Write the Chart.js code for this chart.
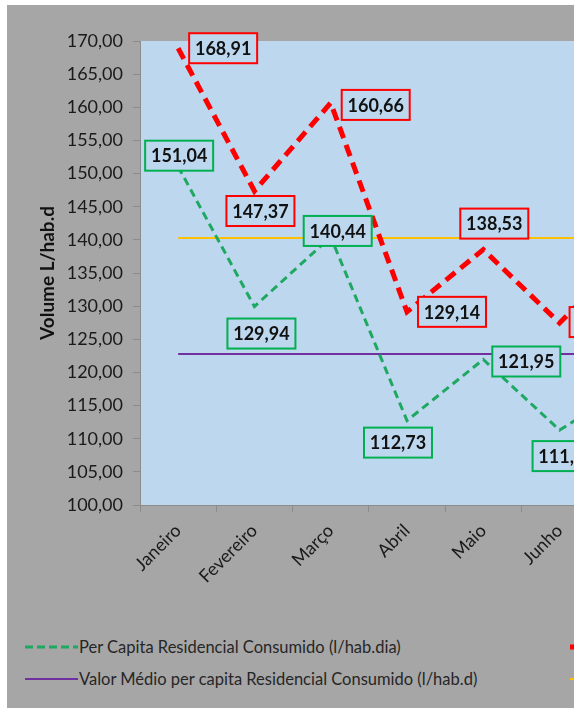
<!DOCTYPE html>
<html>
<head>
<meta charset="utf-8">
<script src="https://cdn.jsdelivr.net/npm/chart.js@4.4.1/dist/chart.umd.min.js"></script>
<style>
  html, body { margin: 0; padding: 0; background: #ffffff; overflow: hidden; width: 574px; height: 708px; }
  #frame { position: absolute; left: 7px; top: 5px; width: 567px; height: 703px; background: #a6a6a6; overflow: hidden; }
  #chart { position: absolute; left: 0; top: 0; }
  .leg { position: absolute; height: 20px; display: flex; align-items: center; white-space: nowrap;
         font-family: Lato, "Open Sans", sans-serif; font-size: 16.5px; color: #262626; }
  .leg svg { margin-right: 1px; }
</style>
</head>
<body>
<div id="frame">
  <canvas id="chart" width="667" height="600"></canvas>
  <div id="legend"></div>
</div>
<script>
// Months on the category axis
const months = ['Janeiro', 'Fevereiro', 'Março', 'Abril', 'Maio', 'Junho', 'Julho'];

// Per capita residential volume, consumed (l/hab.dia)
const consumed = [151.04, 129.94, 140.44, 112.73, 121.95, 111.30, 118.50];
// Per capita residential volume, billed (l/hab.dia)
const billed = [168.91, 147.37, 160.66, 129.14, 138.53, 127.45, 139.00];
// Mean values of each series
const consumedAvg = [122.78, 122.78, 122.78, 122.78, 122.78, 122.78, 122.78];
const billedAvg = [140.27, 140.27, 140.27, 140.27, 140.27, 140.27, 140.27];

// Y axis range and step
const yMin = 100, yMax = 170, yStep = 5;

// Where each value box sits relative to its point [dx, dy]
const consumedBoxOffsets = [[1, -11], [7, 27], [7, -6], [-9, 22], [43, 2], [7, 26], null];
const billedBoxOffsets = [[45, 0], [6, 20], [45, 2], [45, 0], [11, -26], [44, -1], null];

const PLOT_BG = '#bdd7ee';
const AXIS = '#8c8c8c';
const fmt = v => v.toFixed(2).replace('.', ',');

const plotBg = {
  id: 'plotBg',
  beforeDraw(chart) {
    const { ctx, chartArea: a } = chart;
    ctx.save();
    ctx.fillStyle = PLOT_BG;
    ctx.fillRect(a.left, a.top, a.right - a.left, a.bottom - a.top);
    ctx.restore();
  }
};

const valueBoxes = {
  id: 'valueBoxes',
  afterDatasetsDraw(chart) {
    const ctx = chart.ctx;
    chart.data.datasets.forEach((ds, di) => {
      if (!ds.boxOffsets) return;
      const meta = chart.getDatasetMeta(di);
      meta.data.forEach((pt, i) => {
        const off = ds.boxOffsets[i];
        if (!off) return;
        const cx = pt.x + off[0], cy = pt.y + off[1];
        const w = 68, h = 30;
        ctx.save();
        ctx.fillStyle = PLOT_BG;
        ctx.fillRect(cx - w / 2, cy - h / 2, w, h);
        ctx.strokeStyle = ds.boxColor;
        ctx.lineWidth = 2;
        ctx.strokeRect(cx - w / 2, cy - h / 2, w, h);
        ctx.fillStyle = '#111111';
        ctx.font = 'bold 18px Lato';
        ctx.textAlign = 'center';
        ctx.textBaseline = 'middle';
        ctx.fillText(fmt(ds.data[i]), cx, cy + 1);
        ctx.restore();
      });
    });
  }
};

const tickFont = { family: 'Lato', size: 18 };

const chart = new Chart(document.getElementById('chart'), {
  type: 'line',
  data: {
    labels: months,
    datasets: [
      {
        label: 'Per Capita Residencial Consumido (l/hab.dia)',
        data: consumed, borderColor: '#1fa862', borderWidth: 3, borderDash: [8, 5],
        pointRadius: 0, tension: 0, fill: false,
        boxOffsets: consumedBoxOffsets, boxColor: '#00b050', legendDash: '8 4', legendWidth: 3
      },
      {
        label: 'Per Capita Residencial Faturado (l/hab.dia)',
        data: billed, borderColor: '#ff0000', borderWidth: 5, borderDash: [12, 7],
        pointRadius: 0, tension: 0, fill: false,
        boxOffsets: billedBoxOffsets, boxColor: '#ff0000', legendDash: '12 6', legendWidth: 5
      },
      {
        label: 'Valor Médio per capita Residencial Consumido (l/hab.d)',
        data: consumedAvg, borderColor: '#7030a0', borderWidth: 2,
        pointRadius: 0, tension: 0, fill: false, legendWidth: 2
      },
      {
        label: 'Valor Médio per capita Residencial Faturado (l/hab.d)',
        data: billedAvg, borderColor: '#ffc000', borderWidth: 2,
        pointRadius: 0, tension: 0, fill: false, legendWidth: 2
      }
    ]
  },
  options: {
    responsive: false,
    animation: false,
    devicePixelRatio: 1,
    layout: { padding: { top: 36, left: 0, right: 0, bottom: 0 } },
    plugins: { legend: { display: false }, tooltip: { enabled: false } },
    scales: {
      x: {
        offset: true,
        grid: { offset: true, drawOnChartArea: false, tickLength: 7, color: AXIS },
        border: { color: AXIS, width: 1 },
        ticks: { minRotation: 45, maxRotation: 45, font: tickFont, color: '#1a1a1a', padding: 8 },
        afterFit(s) { s.height = 100; }
      },
      y: {
        min: yMin, max: yMax,
        ticks: { stepSize: yStep, callback: v => fmt(v), font: tickFont, color: '#1a1a1a', padding: 10 },
        grid: { drawOnChartArea: false, tickLength: 7, color: AXIS },
        border: { color: AXIS, width: 1 },
        title: {
          display: true, text: 'Volume L/hab.d', color: '#111111',
          font: { family: 'Lato', size: 19, weight: 'bold' },
          padding: { top: 29, bottom: 0 }
        },
        afterFit(s) { s.width = 133; }
      }
    }
  },
  plugins: [plotBg, valueBoxes]
});

// Two-column legend built from the datasets
const legendSpots = [[18, 632], [563, 632], [18, 664], [563, 664]];
const legend = document.getElementById('legend');
chart.data.datasets.forEach((ds, i) => {
  const [x, y] = legendSpots[i];
  const item = document.createElement('div');
  item.className = 'leg';
  item.style.left = x + 'px';
  item.style.top = y + 'px';
  const dash = ds.legendDash ? ` stroke-dasharray="${ds.legendDash}"` : '';
  item.innerHTML =
    `<svg width="53" height="10"><line x1="0" y1="5" x2="53" y2="5" stroke="${ds.borderColor}" stroke-width="${ds.legendWidth}"${dash}/></svg>` +
    `<span>${ds.label}</span>`;
  legend.appendChild(item);
});
</script>
</body>
</html>
